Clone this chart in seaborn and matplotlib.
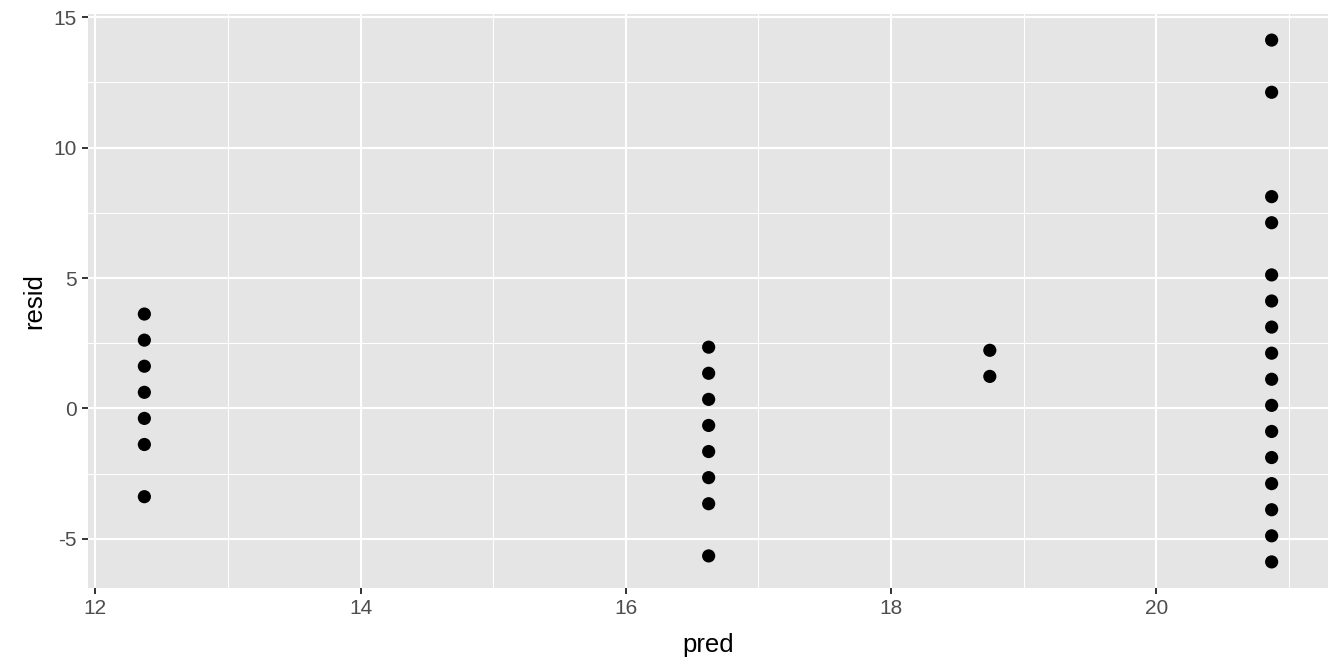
import matplotlib
matplotlib.use("Agg")
import matplotlib.pyplot as plt
import seaborn as sns
import pandas as pd
from matplotlib.ticker import MultipleLocator

pred_levels = [12.37, 16.625, 18.745, 20.87]
resid_g1 = [3.62, 2.62, 1.62, 0.62, -0.38, -1.38, -3.38]
resid_g2 = [2.35, 1.35, 0.35, -0.65, -1.65, -2.65, -3.65, -5.65]
resid_g3 = [2.23, 1.23]
resid_g4 = [14.12, 12.12, 8.12, 7.12, 5.12, 4.12, 3.12, 2.12, 1.12, 0.12,
            -0.88, -1.88, -2.88, -3.88, -4.88, -5.88]

groups = [resid_g1, resid_g2, resid_g3, resid_g4]
pred = []
resid = []
for p, g in zip(pred_levels, groups):
    pred += [p] * len(g)
    resid += g
df = pd.DataFrame({"pred": pred, "resid": resid})

sns.set_style("white")
plt.rcParams['font.family'] = ['Liberation Sans', 'DejaVu Sans']
plt.rcParams['axes.unicode_minus'] = False

fig = plt.figure(figsize=(13.44, 6.72), dpi=100)
ax = fig.add_axes([88/1344, 1-588/672, (1328-88)/1344, (588-14)/672])
ax.set_facecolor("#E5E5E5")

sns.scatterplot(data=df, x="pred", y="resid", ax=ax, color="black",
                s=90, edgecolor="none", linewidth=0, zorder=3)

xr = max(pred) - min(pred)
yr = max(resid) - min(resid)

ax.xaxis.set_major_locator(MultipleLocator(2))
ax.xaxis.set_minor_locator(MultipleLocator(1))
ax.yaxis.set_major_locator(MultipleLocator(5))
ax.yaxis.set_minor_locator(MultipleLocator(2.5))

ax.grid(which="major", color="white", linewidth=1.5, zorder=1)
ax.grid(which="minor", color="white", linewidth=0.75, zorder=1)
ax.set_axisbelow(True)
for s in ax.spines.values():
    s.set_visible(False)

ax.tick_params(which="major", axis="both", length=4.5, width=1.4, color="#333333",
               labelsize=15, labelcolor="#4D4D4D", pad=3.5, direction="out",
               bottom=True, left=True)
ax.tick_params(which="minor", length=0, bottom=False, left=False)
ax.set_xticks(ax.get_xticks())
ax.set_xticklabels([f"{int(t)}" for t in ax.get_xticks()])
ax.set_yticks(ax.get_yticks())
ax.set_yticklabels([f"{int(t)}" for t in ax.get_yticks()])
ax.set_xlim(min(pred) - 0.05*xr, max(pred) + 0.05*xr)
ax.set_ylim(min(resid) - 0.05*yr, max(resid) + 0.05*yr)
ax.set_xlabel("pred", fontsize=18.5, color="black", labelpad=11)
ax.set_ylabel("resid", fontsize=18.5, color="black", labelpad=5)

fig.savefig("out.png", dpi=100, facecolor="white")
